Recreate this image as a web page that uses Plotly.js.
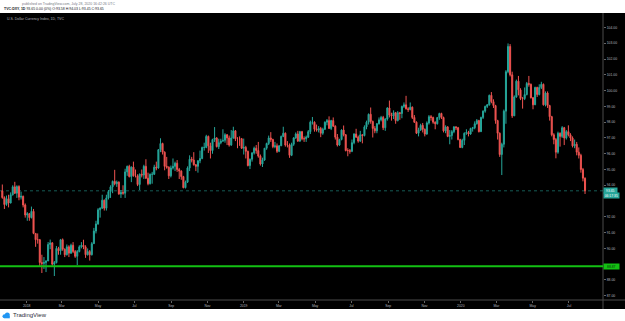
<!DOCTYPE html>
<html>
<head>
<meta charset="utf-8">
<script src="https://cdn.plot.ly/plotly-3.0.1.min.js"></script>
<style>
html,body{margin:0;padding:0;background:#ffffff;width:625px;height:321px;overflow:hidden;}
#chart{position:absolute;left:0;top:0;width:625px;height:321px;}
</style>
</head>
<body>
<div id="chart"></div>
<script>
// U.S. Dollar Currency Index (TVC:DXY), half-week bars (Mon-Wed, Thu-Fri), Nov 2017 - Jul 28 2020
const firstBarDate = Date.UTC(2017, 10, 21);   // first bar (week of Nov 20, 2017)
const barStepDays = 3.5;                        // two bars per week

const open = [
93.65,93.22, 92.78,93.15, 92.88,93.40, 93.90,93.50, 93.92,93.25, 93.30,92.75,
92.12,92.20, 91.95,92.35, 90.95,90.55, 90.55,89.10, 89.05,89.10, 89.20,90.25,
90.35,89.00, 89.10,90.00, 89.85,90.55, 89.95,89.60, 90.10,89.70, 90.20,89.80,
89.50,89.80, 90.10,90.20, 90.10,89.60, 89.80,89.60, 90.30,91.10, 91.55,92.45,
92.55,93.05, 92.55,93.20, 93.60,93.90, 94.25,94.10, 94.20,93.45, 93.55,93.50,
94.85,95.20, 94.55,95.15, 94.60,94.60, 94.05,94.70, 94.65,95.20, 94.45,94.10,
94.70,94.70, 95.15,95.10, 96.25,96.65, 96.10,95.20, 95.15,94.60, 95.10,95.20,
95.40,95.00, 94.90,94.55, 93.85,94.20, 95.10,95.65, 95.60,95.30, 95.20,95.55,
95.70,96.40, 96.40,97.10, 96.50,96.20, 96.90,97.00, 96.45,96.70, 96.80,96.85,
97.20,97.00, 96.55,97.00, 97.45,96.95, 96.95,96.95, 96.35,96.40, 96.15,95.25,
95.65,96.05, 96.35,96.20, 95.85,95.35, 95.60,96.35, 96.65,97.00, 96.90,96.45,
96.50,96.15, 96.50,97.10, 97.30,96.55, 96.55,95.90, 96.60,97.00, 97.25,96.80,
97.40,96.95, 96.95,97.05, 97.40,98.00, 98.00,97.55, 97.50,97.60, 97.30,97.55,
98.00,98.10, 97.60,98.10, 97.75,97.05, 96.55,96.90, 97.50,97.20, 96.20,96.20,
96.15,96.70, 97.25,97.05, 96.80,97.20, 97.15,97.70, 98.00,98.50, 98.05,97.60,
97.45,97.90, 98.15,98.30, 97.65,98.20, 98.90,98.45, 98.40,98.60, 98.10,98.60,
98.55,99.00, 99.10,98.85, 98.80,98.95, 98.30,98.00, 97.30,97.50, 97.80,97.55,
97.25,97.95, 98.35,98.30, 98.00,97.90, 98.30,98.55, 98.30,97.45, 97.70,97.10,
97.15,97.40, 97.70,97.65, 96.90,96.40, 96.85,97.30, 97.35,97.25, 97.60,97.65,
97.90,98.10, 97.40,98.30, 98.70,99.00, 99.10,99.70, 99.30,99.05, 98.10,97.30,
95.95,96.60, 98.70,101.20, 102.80,101.00, 98.40,99.60, 100.60,100.05, 99.50,99.50,
99.75,100.45, 100.40,99.55, 99.10,100.20, 99.75,100.20, 100.40,99.10, 99.85,99.05,
98.35,97.20, 96.90,96.10, 97.30,97.10, 97.65,97.00, 97.40,97.20, 97.00,96.50,
96.60,96.10, 95.90,95.00, 94.45
];

const high = [
94.05,93.30, 93.35,93.40, 93.55,94.00, 94.22,94.00, 94.00,93.60, 93.35,92.85,
92.30,92.25, 92.65,92.50, 90.95,90.95, 90.60,89.60, 89.45,89.25, 90.40,90.56,
90.40,89.20, 90.15,90.10, 90.60,90.63, 90.00,90.25, 90.20,90.30, 90.40,89.90,
89.90,90.20, 90.40,90.55, 90.20,90.00, 89.90,90.40, 91.30,91.75, 92.55,92.60,
93.40,93.10, 93.40,93.70, 94.00,94.30, 94.98,94.30, 94.25,93.70, 94.00,95.05,
95.25,95.30, 95.20,95.50, 95.00,94.70, 94.75,95.00, 95.30,95.65, 94.80,94.75,
94.85,95.30, 95.50,96.30, 96.98,96.70, 96.15,95.80, 95.20,95.25, 95.70,95.50,
95.60,95.10, 94.95,94.60, 94.30,95.20, 95.90,95.80, 96.10,95.35, 95.60,96.20,
96.45,96.70, 97.20,97.15, 96.70,96.95, 97.69,97.05, 96.95,96.95, 97.55,97.30,
97.25,97.15, 97.50,97.71, 97.50,97.05, 97.10,97.00, 96.96,96.50, 96.20,95.70,
96.10,96.45, 96.55,96.75, 95.95,95.75, 96.35,96.70, 97.15,97.37, 96.95,96.75,
96.65,96.55, 97.15,97.71, 97.35,96.80, 96.65,96.70, 97.05,97.35, 97.45,97.45,
97.45,97.10, 97.15,97.50, 98.10,98.33, 98.05,97.85, 97.75,97.70, 97.65,98.05,
98.20,98.37, 98.15,98.30, 97.80,97.25, 96.95,97.55, 97.79,97.25, 96.35,96.30,
96.90,97.30, 97.58,97.15, 97.45,97.25, 97.80,98.10, 98.55,98.93, 98.10,97.75,
97.95,98.30, 98.40,98.40, 98.25,98.95, 99.37,98.60, 98.75,98.65, 98.70,98.65,
99.05,99.25, 99.67,98.95, 99.25,99.00, 98.45,98.05, 97.65,97.90, 97.95,97.60,
98.05,98.45, 98.45,98.35, 98.05,98.30, 98.60,98.60, 98.35,97.80, 97.75,97.50,
97.50,97.75, 97.75,97.70, 96.95,96.95, 97.35,97.55, 97.45,97.65, 97.70,98.05,
98.20,98.15, 98.35,98.75, 99.05,99.15, 99.75,99.91, 99.45,99.10, 98.15,97.35,
96.70,98.80, 101.30,102.99, 102.95,101.20, 99.70,100.70, 100.93,100.15, 99.60,100.20,
100.55,100.93, 100.45,99.60, 100.25,100.25, 100.40,100.56, 100.45,99.95, 99.95,99.10,
98.40,97.30, 97.00,97.40, 97.35,97.75, 97.70,97.50, 97.80,97.30, 97.10,96.90,
96.75,96.40, 96.00,95.10, 94.50
];

const low = [
93.15,92.50, 92.70,92.60, 92.85,93.35, 93.45,93.20, 93.05,93.10, 92.60,91.95,
91.75,91.75, 91.90,90.90, 90.10,90.30, 88.85,88.44, 88.70,88.50, 89.20,89.95,
88.90,88.25, 89.05,89.60, 89.60,89.85, 89.45,89.55, 89.45,89.65, 89.70,89.40,
88.94,89.75, 90.00,89.95, 89.40,89.55, 89.23,89.55, 90.30,90.95, 91.50,91.95,
92.50,92.40, 92.40,93.10, 93.20,93.50, 94.00,93.90, 93.40,93.20, 93.40,93.20,
94.60,94.50, 94.20,94.55, 94.50,93.95, 93.70,94.50, 94.40,94.40, 94.00,94.05,
94.10,94.65, 94.95,95.05, 96.10,95.95, 94.95,95.05, 94.40,94.50, 95.00,94.90,
94.85,94.40, 94.35,93.81, 93.80,94.15, 94.90,95.45, 95.25,94.90, 94.80,95.40,
95.65,96.20, 96.35,96.05, 95.70,96.00, 96.75,96.40, 96.30,96.60, 96.75,96.70,
96.55,96.45, 96.50,96.95, 96.80,96.35, 96.50,96.30, 95.95,95.70, 95.20,95.03,
95.50,95.95, 96.00,95.75, 95.25,95.16, 95.55,96.25, 96.55,96.75, 96.35,96.35,
96.05,96.10, 96.50,97.05, 96.45,96.40, 95.74,95.85, 96.50,96.95, 96.75,96.75,
96.85,96.75, 96.75,97.00, 97.25,97.85, 97.40,97.40, 97.35,97.05, 97.20,97.50,
97.80,97.60, 97.50,97.70, 96.90,96.46, 96.50,96.85, 97.10,96.15, 95.84,96.00,
96.10,96.60, 97.00,96.70, 96.75,96.66, 97.10,97.55, 97.85,97.90, 97.03,97.30,
97.30,97.85, 98.05,97.50, 97.45,98.10, 98.30,98.10, 98.20,97.90, 98.05,98.15,
98.25,98.90, 98.80,98.65, 98.75,98.20, 97.95,97.25, 97.10,97.45, 97.35,97.10,
97.20,97.85, 98.10,97.90, 97.55,97.85, 98.15,98.20, 97.35,97.30, 97.05,96.60,
96.90,97.30, 97.50,96.85, 96.36,96.35, 96.55,97.20, 97.10,97.20, 97.40,97.55,
97.85,97.35, 97.40,98.20, 98.60,98.90, 99.05,99.20, 98.90,97.90, 96.90,95.80,
94.65,96.40, 97.90,101.10, 100.90,98.27, 98.40,99.55, 99.70,99.40, 98.86,99.40,
99.70,100.25, 99.50,98.82, 99.10,99.60, 99.70,100.10, 99.05,99.00, 98.90,98.10,
97.10,96.60, 95.71,96.00, 96.45,97.00, 96.55,96.90, 97.10,96.80, 96.40,96.35,
95.90,95.70, 94.80,94.25, 93.45
];

const close = [
93.22,92.78, 93.15,92.88, 93.40,93.90, 93.50,93.92, 93.25,93.30, 92.75,92.12,
92.20,91.95, 92.35,90.95, 90.55,90.55, 89.10,89.05, 89.10,89.20, 90.25,90.35,
89.00,89.10, 90.00,89.85, 90.55,89.95, 89.60,90.10, 89.70,90.20, 89.80,89.50,
89.80,90.10, 90.20,90.10, 89.60,89.80, 89.60,90.30, 91.10,91.55, 92.45,92.55,
93.05,92.55, 93.20,93.60, 93.90,94.25, 94.10,94.20, 93.45,93.55, 93.50,94.85,
95.20,94.55, 95.15,94.60, 94.60,94.05, 94.70,94.65, 95.20,94.45, 94.10,94.70,
94.70,95.15, 95.10,96.25, 96.65,96.10, 95.20,95.15, 94.60,95.10, 95.20,95.40,
95.00,94.90, 94.55,93.85, 94.20,95.10, 95.65,95.60, 95.30,95.20, 95.55,95.70,
96.40,96.40, 97.10,96.50, 96.20,96.90, 97.00,96.45, 96.70,96.80, 96.85,97.20,
97.00,96.55, 97.00,97.45, 96.95,96.95, 96.95,96.35, 96.40,96.15, 95.25,95.65,
96.05,96.35, 96.20,95.85, 95.35,95.60, 96.35,96.65, 97.00,96.90, 96.45,96.50,
96.15,96.50, 97.10,97.30, 96.55,96.55, 95.90,96.60, 97.00,97.25, 96.80,97.40,
96.95,96.95, 97.05,97.40, 98.00,98.00, 97.55,97.50, 97.60,97.30, 97.55,98.00,
98.10,97.60, 98.10,97.75, 97.05,96.55, 96.90,97.50, 97.20,96.20, 96.20,96.15,
96.70,97.25, 97.05,96.80, 97.20,97.15, 97.70,98.00, 98.50,98.05, 97.60,97.45,
97.90,98.15, 98.30,97.65, 98.20,98.90, 98.45,98.40, 98.60,98.10, 98.60,98.55,
99.00,99.10, 98.85,98.80, 98.95,98.30, 98.00,97.30, 97.50,97.80, 97.55,97.25,
97.95,98.35, 98.30,98.00, 97.90,98.30, 98.55,98.30, 97.45,97.70, 97.10,97.15,
97.40,97.70, 97.65,96.90, 96.40,96.85, 97.30,97.35, 97.25,97.60, 97.65,97.90,
98.10,97.40, 98.30,98.70, 99.00,99.10, 99.70,99.30, 99.05,98.10, 97.30,95.95,
96.60,98.70, 101.20,102.80, 101.00,98.40, 99.60,100.60, 100.05,99.50, 99.50,99.75,
100.45,100.40, 99.55,99.10, 100.20,99.75, 100.20,100.40, 99.10,99.85, 99.05,98.35,
97.20,96.90, 96.10,97.30, 97.10,97.65, 97.00,97.40, 97.20,97.00, 96.50,96.60,
96.10,95.90, 95.00,94.45, 93.65
];

const xTickVals = ['2018-01-01','2018-03-01','2018-05-01','2018-07-01','2018-09-01','2018-11-01',
  '2019-01-01','2019-03-01','2019-05-01','2019-07-01','2019-09-01','2019-11-01',
  '2020-01-01','2020-03-01','2020-05-01','2020-07-01'];
const xTickText = ['2018','Mar','May','Jul','Sep','Nov','2019','Mar','May','Jul','Sep','Nov','2020','Mar','May','Jul'];
const yTickVals = [87,88,90,91,92,94,95,96,97,98,99,100,101,102,103,104];

const lastPrice = 93.65;
const supportLevel = 88.87;
const countdownText = '06:17:35';
const chartTitle = 'U.S. Dollar Currency Index, 1D, TVC';
const header1 = 'published on TradingView.com, July 28, 2020 16:42:26 UTC';
const header2 = '<b>TVC:DXY, 1D</b> 93.65 0.00 (0%) O:93.58 H:94.03 L:93.45 C:93.65';

if (open.length !== close.length || high.length !== close.length || low.length !== close.length) {
  throw new Error('length mismatch ' + open.length + ' ' + high.length + ' ' + low.length + ' ' + close.length);
}

const dates = close.map((_, i) => new Date(firstBarDate + i * barStepDays * 86400000).toISOString().slice(0, 16).replace('T', ' '));

const UP = '#26a69a', DOWN = '#ef5350', GREEN = '#13c013', AXC = '#4a4a4a', TXT = '#b2b5be';

// pixel helpers for paper coordinates (plot area: x 0..603, y 13..300)
const PW = 603, PH = 287, PB = 300;
const px = v => v / PW;
const py = v => (PB - v) / PH;

const trace = {
  type: 'candlestick',
  x: dates, open: open, high: high, low: low, close: close,
  increasing: {line: {color: UP, width: 1}, fillcolor: UP},
  decreasing: {line: {color: DOWN, width: 1}, fillcolor: DOWN},
  whiskerwidth: 0,
  hoverinfo: 'skip',
  showlegend: false
};

const FONT = 'Liberation Sans, Arial, sans-serif';

const layout = {
  width: 625, height: 321,
  margin: {l: 0, r: 22, t: 13, b: 21, pad: 0},
  paper_bgcolor: '#ffffff',
  plot_bgcolor: '#000000',
  showlegend: false,
  font: {family: FONT, size: 3.4, color: TXT},
  xaxis: {
    type: 'date',
    range: ['2017-11-17 02:24', '2020-08-27 05:00'],
    tickvals: xTickVals, ticktext: xTickText,
    showgrid: false, zeroline: false, showline: false,
    ticks: 'outside', ticklen: 2, tickwidth: 1, tickcolor: '#666',
    tickfont: {family: FONT, size: 3.4, color: TXT},
    rangeslider: {visible: false},
    fixedrange: true
  },
  yaxis: {
    side: 'right',
    range: [86.73, 104.92],
    tickvals: yTickVals,
    tickformat: '.2f',
    showgrid: false, zeroline: false, showline: false,
    ticks: 'outside', ticklen: 2, tickwidth: 1, tickcolor: '#666',
    tickfont: {family: FONT, size: 3.4, color: TXT},
    fixedrange: true
  },
  shapes: [
    // black chart background incl. price & time scales
    {type: 'rect', xref: 'paper', yref: 'paper', x0: 0, x1: 625 / PW, y0: py(309), y1: 1,
     fillcolor: '#000000', line: {width: 0}, layer: 'below'},
    // scale border lines
    {type: 'line', xref: 'paper', yref: 'paper', x0: 0, x1: 625 / PW, y0: 0, y1: 0,
     line: {color: AXC, width: 1}, layer: 'below'},
    {type: 'line', xref: 'paper', yref: 'paper', x0: 1, x1: 1, y0: py(309), y1: 1,
     line: {color: AXC, width: 1}, layer: 'below'},
    // last price line
    {type: 'line', xref: 'paper', yref: 'y', x0: 0, x1: 1, y0: lastPrice, y1: lastPrice,
     line: {color: 'rgba(38,166,154,0.55)', width: 1, dash: 'dot'}, layer: 'below'},
    // support line
    {type: 'line', xref: 'paper', yref: 'y', x0: 0, x1: 1, y0: supportLevel, y1: supportLevel,
     line: {color: GREEN, width: 2}, layer: 'above'},
    // TradingView logo (cloud)
    {type: 'circle', xref: 'paper', yref: 'paper', x0: px(2.5), x1: px(6.5), y0: py(318.3), y1: py(314.3),
     fillcolor: '#2196f3', line: {width: 0}},
    {type: 'circle', xref: 'paper', yref: 'paper', x0: px(4.8), x1: px(9.8), y0: py(317.6), y1: py(312.6),
     fillcolor: '#2196f3', line: {width: 0}},
    {type: 'rect', xref: 'paper', yref: 'paper', x0: px(4.5), x1: px(9.8), y0: py(318.3), y1: py(316),
     fillcolor: '#2196f3', line: {width: 0}}
  ],
  annotations: [
    {xref: 'paper', yref: 'paper', x: px(20), y: py(4), xanchor: 'left', yanchor: 'middle',
     text: header1, showarrow: false, font: {family: FONT, size: 3.5, color: '#787b86'}},
    {xref: 'paper', yref: 'paper', x: px(2), y: py(9.3), xanchor: 'left', yanchor: 'middle',
     text: header2, showarrow: false, font: {family: FONT, size: 3.5, color: '#131722'}},
    {xref: 'paper', yref: 'paper', x: px(5), y: py(19.3), xanchor: 'left', yanchor: 'middle',
     text: chartTitle, showarrow: false, font: {family: FONT, size: 3.5, color: TXT}},
    {xref: 'paper', yref: 'y', x: 1, y: lastPrice, xanchor: 'left', yanchor: 'middle',
     text: lastPrice.toFixed(2), showarrow: false, bgcolor: UP, width: 12, height: 4.6, borderpad: 0.3,
     font: {family: FONT, size: 3.4, color: '#ffffff'}},
    {xref: 'paper', yref: 'y', x: 1, y: lastPrice, yshift: -5, xanchor: 'left', yanchor: 'middle',
     text: countdownText, showarrow: false, bgcolor: UP, width: 14, height: 4.6, borderpad: 0.3,
     font: {family: FONT, size: 3.4, color: '#ffffff'}},
    {xref: 'paper', yref: 'y', x: 1, y: supportLevel, xanchor: 'left', yanchor: 'middle',
     text: supportLevel.toFixed(2), showarrow: false, bgcolor: GREEN, width: 14, height: 4.8, borderpad: 0.3,
     font: {family: FONT, size: 3.4, color: '#0b2a0b'}},
    {xref: 'paper', yref: 'paper', x: px(10.5), y: py(315.2), xanchor: 'left', yanchor: 'middle',
     text: 'TradingView', showarrow: false, font: {family: FONT, size: 6, color: '#2a2e39'}}
  ]
};

Plotly.newPlot('chart', [trace], layout, {staticPlot: true, displayModeBar: false});
</script>
</body>
</html>
